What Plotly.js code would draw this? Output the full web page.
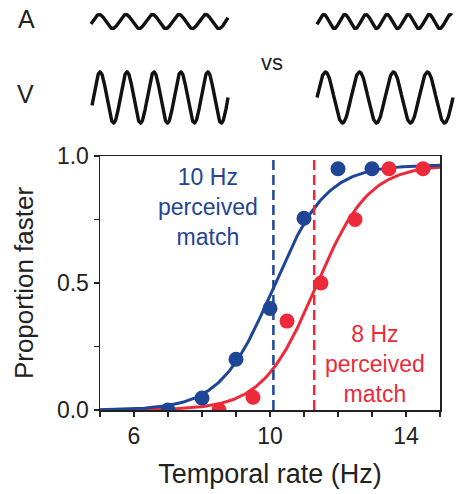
<!DOCTYPE html>
<html>
<head>
<meta charset="utf-8">
<script src="https://cdn.plot.ly/plotly-3.0.1.min.js"></script>
<style>html,body{margin:0;padding:0;background:#fff;}#chart{width:459px;height:494px;}</style>
</head>
<body>
<div id="chart"></div>
<script>
// ---- data ----
const blueRate = [7, 8, 9, 10, 11, 12, 13];
const blueProp = [0, 0.047, 0.2, 0.4, 0.755, 0.95, 0.95];
const redRate = [8.5, 9.5, 10.5, 11.5, 12.5, 13.5, 14.5];
const redProp = [0, 0.05, 0.35, 0.5, 0.75, 0.95, 0.95];
// psychometric fit parameters (logistic): [blue, red]
const fitMu = [10.1, 11.34];
const fitScale = [0.78, 0.78];
const fitTop = [0.965, 0.965];
// perceived match (PSE) lines
const pse = [10.1, 11.3];
// stimulus waves: number of cycles shown [A left, A right, V left, V right]
const waveCycles = [5.15, 6.4, 5.05, 4.0];
const wavePhase = [-0.06, -0.07, -0.05, 0.0];
const waveLabels = ["A", "V"];
const xTickLabels = ["6", "10", "14"];

// ---- colours / layout constants ----
const BLUE = "#1f4596";
const RED = "#ed2a3a";
const W = 459, H = 494;
const plotL = 100, plotR = 440, plotT = 156, plotB = 410;

function fitCurve(i, x0, x1) {
  const xs = [], ys = [];
  for (let x = x0; x <= x1 + 1e-9; x += 0.05) {
    xs.push(x);
    ys.push(fitTop[i] / (1 + Math.exp(-(x - fitMu[i]) / fitScale[i])));
  }
  return {xs, ys};
}

// wave geometry (pixel placement on the overlay axes)
const waveBox = [
  {x0: 91, x1: 228, yc: 21.5, amp: 7},
  {x0: 317, x1: 452, yc: 21.5, amp: 7},
  {x0: 92, x1: 228, yc: 97.5, amp: 25.5},
  {x0: 317, x1: 453, yc: 97.5, amp: 25.5}
];
function wave(i) {
  const b = waveBox[i];
  const xs = [], ys = [];
  const n = 400;
  for (let k = 0; k <= n; k++) {
    const t = k / n;
    xs.push(b.x0 + t * (b.x1 - b.x0));
    ys.push(b.yc - b.amp * Math.sin(2 * Math.PI * (wavePhase[i] + t * waveCycles[i])));
  }
  return {xs, ys};
}

const traces = [];
for (let i = 0; i < 4; i++) {
  const w = wave(i);
  traces.push({x: w.xs, y: w.ys, xaxis: "x2", yaxis: "y2", mode: "lines",
    line: {color: "#111", width: 3.4}, hoverinfo: "skip", showlegend: false});
}
const rc = fitCurve(1, 5, 15), bc = fitCurve(0, 5, 15);
traces.push({x: rc.xs, y: rc.ys, mode: "lines", line: {color: RED, width: 3}, showlegend: false});
traces.push({x: bc.xs, y: bc.ys, mode: "lines", line: {color: BLUE, width: 3}, showlegend: false});
traces.push({x: pse.slice(0,1).concat(pse.slice(0,1)), y: [0, 1], mode: "lines",
  line: {color: BLUE, width: 2.5, dash: "10px,5px"}, showlegend: false});
traces.push({x: pse.slice(1,2).concat(pse.slice(1,2)), y: [0, 1], mode: "lines",
  line: {color: RED, width: 2.5, dash: "10px,5px"}, showlegend: false});
traces.push({x: redRate, y: redProp, mode: "markers", marker: {color: RED, size: 15}, showlegend: false});
traces.push({x: blueRate, y: blueProp, mode: "markers", marker: {color: BLUE, size: 15}, showlegend: false});

const FONT = "Liberation Sans, Arial, sans-serif";
const layout = {
  width: W, height: H,
  margin: {l: 0, r: 0, t: 0, b: 0},
  paper_bgcolor: "#fff", plot_bgcolor: "rgba(0,0,0,0)",
  font: {family: FONT, color: "#222"},
  showlegend: false,
  xaxis: {
    domain: [plotL / W, plotR / W], anchor: "y",
    range: [5, 15], tickmode: "array", tickvals: xTickLabels.map(Number), ticktext: xTickLabels,
    ticks: "outside", ticklen: 5, tickwidth: 1.5, tickcolor: "#222",
    minor: {dtick: 1, tick0: 5, ticks: "outside", ticklen: 5, tickwidth: 1.3, tickcolor: "#222"},
    showline: true, linecolor: "#222", linewidth: 1.5, mirror: true,
    showgrid: false, zeroline: false,
    tickfont: {size: 23, color: "#222"},
    title: {text: "Temporal rate (Hz)", font: {size: 27, color: "#222"}, standoff: 16}
  },
  yaxis: {
    domain: [(H - plotB) / H, (H - plotT) / H], anchor: "x",
    range: [0, 1], tickmode: "linear", tick0: 0, dtick: 0.5, tickformat: ".1f",
    ticks: "outside", ticklen: 5, tickwidth: 1.5, tickcolor: "#222",
    minor: {dtick: 0.25, tick0: 0, ticks: "outside", ticklen: 5, tickwidth: 1.3, tickcolor: "#222"},
    showline: true, linecolor: "#222", linewidth: 1.5, mirror: true,
    showgrid: false, zeroline: false,
    tickfont: {size: 23, color: "#222"},
    title: {text: "Proportion faster", font: {size: 26, color: "#222"}, standoff: 16}
  },
  xaxis2: {domain: [0, 1], anchor: "y2", range: [0, W], visible: false, fixedrange: true},
  yaxis2: {domain: [0, 1], anchor: "x2", range: [H, 0], visible: false, fixedrange: true},
  annotations: [
    {xref: "x2", yref: "y2", x: 26, y: 19, text: waveLabels[0], showarrow: false,
     font: {size: 25, color: "#222"}, xanchor: "center", yanchor: "middle"},
    {xref: "x2", yref: "y2", x: 25, y: 94, text: waveLabels[1], showarrow: false,
     font: {size: 25, color: "#222"}, xanchor: "center", yanchor: "middle"},
    {xref: "x2", yref: "y2", x: 272, y: 62, text: "vs", showarrow: false,
     font: {size: 22, color: "#222"}, xanchor: "center", yanchor: "middle"},
    {xref: "x", yref: "y", x: 8.17, y: 0.8, text: "10 Hz<br>perceived<br>match", showarrow: false,
     font: {size: 23, color: BLUE}, xanchor: "center", yanchor: "middle", align: "center"},
    {xref: "x", yref: "y", x: 13.08, y: 0.18, text: "8 Hz<br>perceived<br>match", showarrow: false,
     font: {size: 23, color: RED}, xanchor: "center", yanchor: "middle", align: "center"}
  ]
};

Plotly.newPlot("chart", traces, layout, {staticPlot: true, displayModeBar: false});
</script>
</body>
</html>
